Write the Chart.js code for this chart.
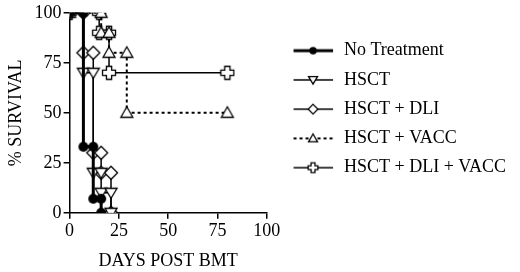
<!DOCTYPE html>
<html>
<head>
<meta charset="utf-8">
<script src="https://cdn.jsdelivr.net/npm/chart.js@4.4.1/dist/chart.umd.min.js"></script>
<style>
  html, body { margin: 0; padding: 0; background: #fff; }
  #wrap { width: 520px; height: 272px; }
</style>
</head>
<body>
<div id="wrap"><canvas id="survival-chart"></canvas></div>
<script>
// Kaplan-Meier steps (days post BMT, % survival)
const seriesNames = ['No Treatment', 'HSCT', 'HSCT + DLI', 'HSCT + VACC', 'HSCT + DLI + VACC'];
const noTreatDays = [0, 7, 7, 12, 12, 16, 16];
const noTreatSurv = [100, 100, 33, 33, 7, 7, 0];
const hsctDays = [0, 7, 7, 12, 12, 16, 16, 21, 21];
const hsctSurv = [100, 100, 70, 70, 20, 20, 10, 10, 0];
const dliDays = [0, 7, 7, 12, 12, 16, 16, 21, 21];
const dliSurv = [100, 100, 80, 80, 30, 30, 20, 20, 0];
const vaccDays = [0, 16, 16, 20, 20, 29, 29, 80];
const vaccSurv = [100, 100, 90, 90, 80, 80, 50, 50];
const dliVaccDays = [0, 15, 15, 20, 20, 80];
const dliVaccSurv = [100, 100, 90, 90, 70, 70];
const xTicks = [0, 25, 50, 75, 100];
const yTicks = [0, 25, 50, 75, 100];

const FONT = "'Liberation Serif', 'DejaVu Serif', serif";

function drawMarker(ctx, kind, cx, cy, k) {
  ctx.lineWidth = 1.3;
  ctx.strokeStyle = '#000';
  ctx.fillStyle = '#fff';
  ctx.beginPath();
  if (kind === 'circle') {
    ctx.arc(cx, cy, 5 * k, 0, Math.PI * 2);
    ctx.fillStyle = '#000';
    ctx.fill();
    return;
  }
  let pts;
  if (kind === 'triDown') pts = [[-6, -4.5], [6, -4.5], [0, 5.5]];
  if (kind === 'triUp') pts = [[0, -6], [6, 4.5], [-6, 4.5]];
  if (kind === 'diamond') pts = [[0, -6.5], [6.5, 0], [0, 6.5], [-6.5, 0]];
  if (kind === 'plus') {
    const w = 2.6, l = 6.5;
    pts = [[-w, -l], [w, -l], [w, -w], [l, -w], [l, w], [w, w], [w, l], [-w, l], [-w, w], [-l, w], [-l, -w], [-w, -w]];
  }
  pts.forEach((p, i) => {
    const x = cx + p[0] * k, y = cy + p[1] * k;
    if (i === 0) ctx.moveTo(x, y); else ctx.lineTo(x, y);
  });
  ctx.closePath();
  ctx.fill();
  ctx.stroke();
}

function makeMarker(kind) {
  const c = document.createElement('canvas');
  c.width = 16; c.height = 16;
  drawMarker(c.getContext('2d'), kind, 8, 8, 1);
  return c;
}

// legend swatch: transparent left margin, then line with marker
function makeLegendSample(kind, width, dash) {
  const c = document.createElement('canvas');
  c.width = 57; c.height = 16;
  const ctx = c.getContext('2d');
  ctx.strokeStyle = '#000';
  ctx.lineWidth = width;
  ctx.setLineDash(dash);
  ctx.beginPath();
  ctx.moveTo(15.5, 8); ctx.lineTo(55, 8);
  ctx.stroke();
  ctx.setLineDash([]);
  drawMarker(ctx, kind, 35, 8, 0.75);
  return c;
}

const series = [
  { days: noTreatDays, surv: noTreatSurv, marker: 'circle', width: 3, dash: [] },
  { days: hsctDays, surv: hsctSurv, marker: 'triDown', width: 1.5, dash: [] },
  { days: dliDays, surv: dliSurv, marker: 'diamond', width: 1.5, dash: [] },
  { days: vaccDays, surv: vaccSurv, marker: 'triUp', width: 2, dash: [3, 3] },
  { days: dliVaccDays, surv: dliVaccSurv, marker: 'plus', width: 1.5, dash: [] },
];

const datasets = series.map((s, i) => ({
  label: seriesNames[i],
  data: s.days.map((d, j) => ({ x: d, y: s.surv[j] })),
  borderColor: '#000',
  backgroundColor: '#fff',
  borderWidth: s.width,
  borderDash: s.dash,
  pointStyle: makeMarker(s.marker),
  pointRadius: 6,
  pointHoverRadius: 6,
  fill: false,
  tension: 0,
  legendSample: makeLegendSample(s.marker, s.width, s.dash),
}));

const axisCommon = (title, ticks, titlePad) => ({
  type: 'linear',
  min: 0,
  max: 100,
  afterBuildTicks: (axis) => { axis.ticks = ticks.map(v => ({ value: v })); },
  ticks: { color: '#000', font: { family: FONT, size: 18 }, padding: 2 },
  grid: { drawOnChartArea: false, drawTicks: true, tickLength: 6, color: '#000', lineWidth: 1.5 },
  border: { display: true, color: '#000', width: 1.5 },
  title: { display: true, text: title, color: '#000', font: { family: FONT, size: 18 }, padding: titlePad },
});

new Chart(document.getElementById('survival-chart'), {
  type: 'line',
  data: { datasets },
  options: {
    responsive: true,
    maintainAspectRatio: false,
    animation: false,
    layout: { padding: { left: 5, top: 12, right: 4, bottom: 0 } },
    scales: {
      x: axisCommon('DAYS POST BMT', xTicks, { top: 6, bottom: 0 }),
      y: axisCommon('% SURVIVAL', yTicks, { top: 0, bottom: 6 }),
    },
    plugins: {
      tooltip: { enabled: false },
      legend: {
        position: 'right',
        align: 'start',
        maxWidth: 254,
        title: { display: true, text: '', padding: { top: 4, bottom: 0 } },
        labels: {
          color: '#000',
          font: { family: FONT, size: 18 },
          usePointStyle: true,
          pointStyleWidth: 57,
          padding: 11.25,
          generateLabels: (chart) => chart.data.datasets.map((ds, i) => ({
            text: ds.label,
            pointStyle: ds.legendSample,
            fillStyle: '#fff',
            strokeStyle: '#000',
            lineWidth: 0,
            hidden: false,
            datasetIndex: i,
            fontColor: '#000',
          })),
        },
      },
    },
  },
});
</script>
</body>
</html>
